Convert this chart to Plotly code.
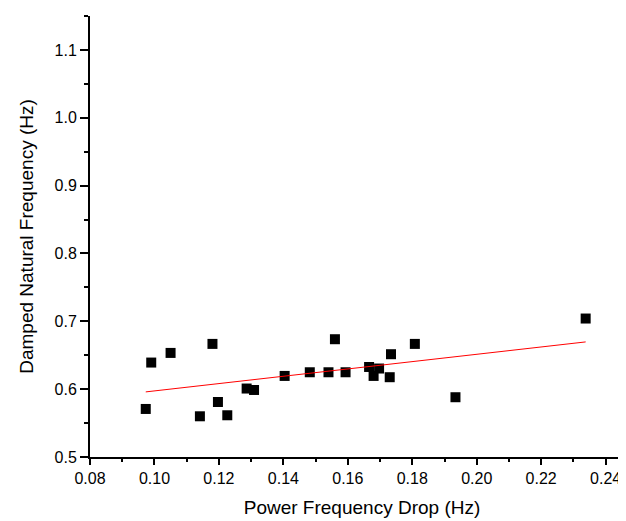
import numpy as np
import plotly.graph_objects as go

# Power frequency drop (Hz) vs damped natural frequency (Hz)
freq_drop = [0.0973, 0.0990, 0.1050, 0.1141, 0.1180, 0.1197, 0.1226, 0.1286,
             0.1309, 0.1404, 0.1482, 0.1540, 0.1560, 0.1593, 0.1666, 0.1680,
             0.1697, 0.1730, 0.1734, 0.1808, 0.1934, 0.2338]
damped_freq = [0.5708, 0.6392, 0.6534, 0.5600, 0.6667, 0.5811, 0.5615, 0.6009,
               0.5988, 0.6195, 0.6249, 0.6249, 0.6736, 0.6249, 0.6327, 0.6195,
               0.6304, 0.6176, 0.6515, 0.6667, 0.5881, 0.7041]

# linear fit over the data range
slope, intercept = np.polyfit(freq_drop, damped_freq, 1)
fit_x = [min(freq_drop), max(freq_drop)]
fit_y = [slope * v + intercept for v in fit_x]

fig = go.Figure()

fig.add_trace(go.Scatter(
    x=freq_drop, y=damped_freq, mode='markers',
    marker=dict(symbol='square', size=10, color='black'),
    showlegend=False
))

fig.add_trace(go.Scatter(
    x=fit_x, y=fit_y, mode='lines',
    line=dict(color='red', width=1),
    showlegend=False
))

axis_font = dict(family='Liberation Sans, Arial, sans-serif', size=16, color='black')
title_font = dict(family='Liberation Sans, Arial, sans-serif', size=19, color='black')

fig.update_xaxes(
    range=[0.08, 0.2488], dtick=0.02, tick0=0.08, tickformat='.2f',
    showline=True, linecolor='black', linewidth=2,
    ticks='outside', ticklen=6, tickwidth=1.5, tickcolor='black',
    minor=dict(ticks='outside', ticklen=3, tickwidth=1.5, tickcolor='black', dtick=0.01),
    showgrid=False, zeroline=False, tickfont=axis_font,
    title=dict(text='Power Frequency Drop (Hz)', font=title_font, standoff=14)
)
fig.update_yaxes(
    range=[0.5, 1.15], dtick=0.1, tick0=0.5, tickformat='.1f',
    showline=True, linecolor='black', linewidth=2,
    ticks='outside', ticklen=8, tickwidth=1.5, tickcolor='black',
    minor=dict(ticks='outside', ticklen=4, tickwidth=1.5, tickcolor='black', dtick=0.05),
    showgrid=False, zeroline=False, tickfont=axis_font,
    title=dict(text='Damped Natural Frequency (Hz)', font=title_font, standoff=16)
)

fig.update_layout(
    width=626, height=521,
    margin=dict(l=82, r=0, t=8, b=72),
    plot_bgcolor='white', paper_bgcolor='white',
    font=axis_font
)

fig.write_html("out.html")
